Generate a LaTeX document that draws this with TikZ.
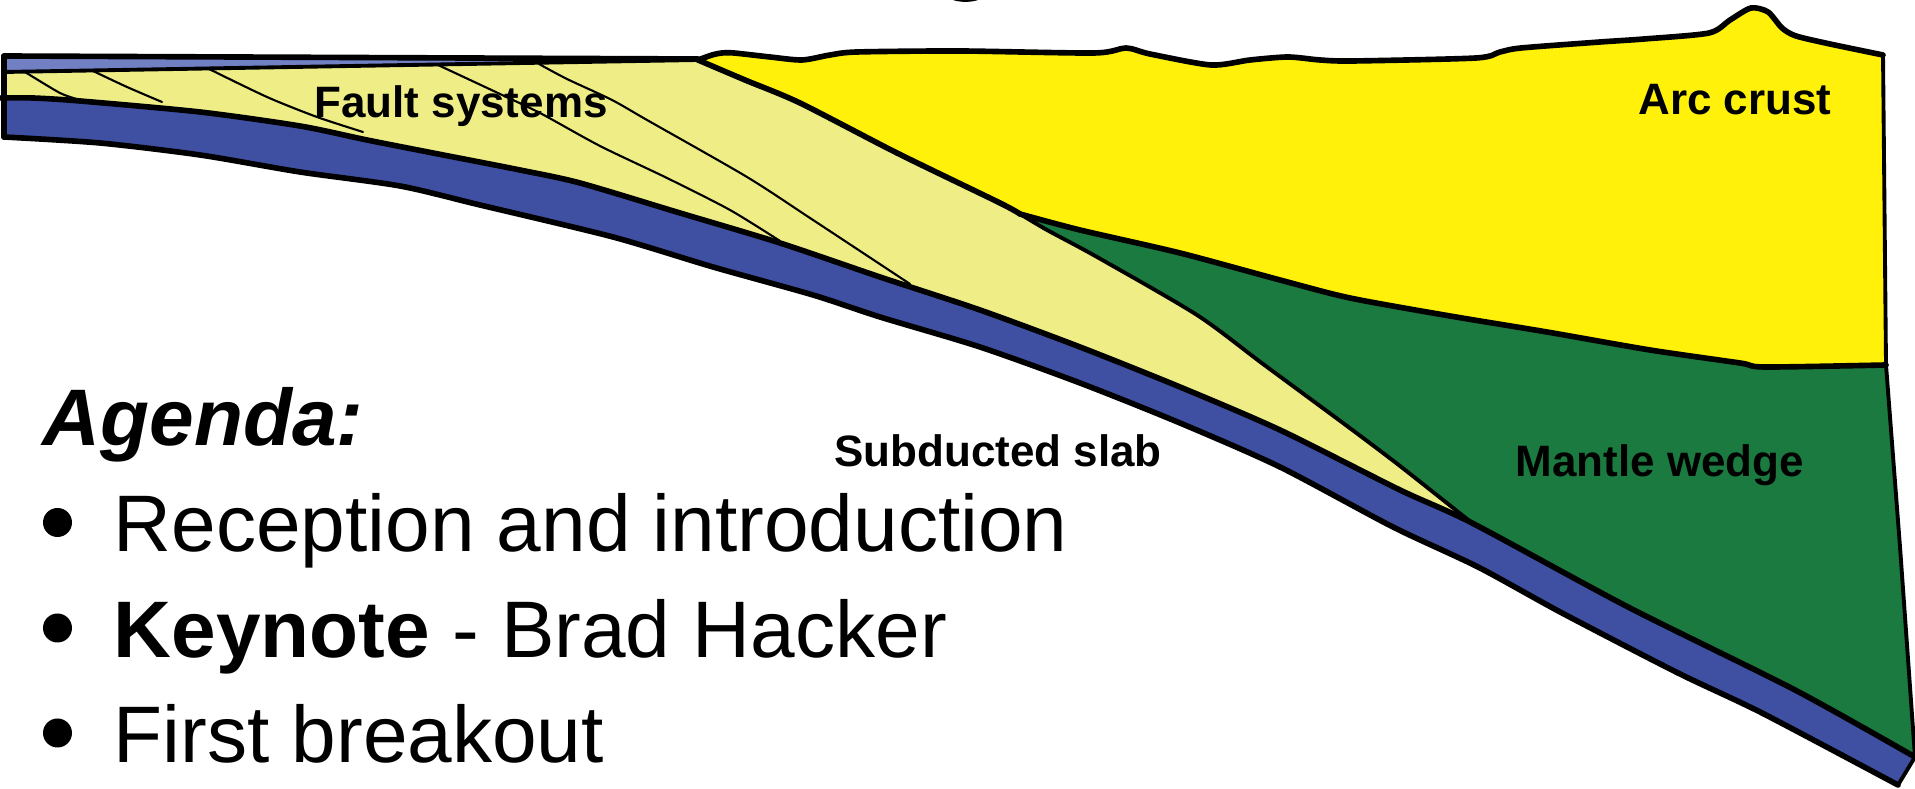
\documentclass[tikz,border=0pt]{standalone}
\usepackage{fontspec}
\setmainfont{Liberation Sans}
\begin{document}
\definecolor{stripblue}{RGB}{112,128,195}
\definecolor{slabblue}{RGB}{63,80,162}
\definecolor{wedgeyellow}{RGB}{239,238,134}
\definecolor{arcyellow}{RGB}{255,241,10}
\definecolor{mantlegreen}{RGB}{27,122,63}
\begin{tikzpicture}[x=0.01cm,y=-0.01cm,
  boundary/.style={line width=1.6pt,line join=round,line cap=round},
  seam/.style={line width=1.1pt,line join=round,line cap=round},
  fault/.style={line width=0.6pt,line cap=round},
  layerlabel/.style={inner sep=0pt,anchor=base,font=\fontsize{12.5}{15}\selectfont\bfseries},
  agendaline/.style={inner sep=0pt,anchor=base west,font=\fontsize{22.8}{27}\selectfont},
  sm/.style={smooth,tension=0.45}]
\useasboundingbox (0,0) rectangle (1915,789);

% ---------- fills ----------
% subducted slab
\fill[slabblue] plot[sm] coordinates {(1,98) (33,98) (80,101) (200,112) (300,126) (367,140) (433,153) (520,170) (580,183) (680,213) (780,243) (880,277) (980,310) (1080,347) (1180,387) (1280,430) (1400,490) (1472,523) (1628,607) (1795,690) (1915,757)}
  -- (1898,785)
  -- plot[sm] coordinates {(1898,785) (1762,713) (1678,673) (1562,613) (1478,567) (1393,527) (1280,467) (1180,423) (1080,383) (980,347) (880,317) (813,295) (713,267) (613,237) (480,205) (400,186) (300,172) (200,155) (100,143) (4,137)}
  -- cycle;

% accretionary wedge
\fill[wedgeyellow] (4,72) -- (698,60)
  -- plot[sm] coordinates {(698,60) (745,80) (800,103) (897,153) (1000,203) (1020,214)}
  -- plot[sm] coordinates {(1020,214) (1047,230) (1097,257) (1197,315) (1263,364) (1347,426) (1400,466) (1472,523)}
  -- plot[sm] coordinates {(1472,523) (1400,490) (1280,430) (1180,387) (1080,347) (980,310) (880,277) (780,243) (680,213) (580,183) (520,170) (433,153) (367,140) (300,126) (200,112) (80,101) (33,98) (4,98)}
  -- cycle;

% arc crust
\fill[arcyellow] plot[sm] coordinates {(698,60) (712,55) (722,53) (734,53) (770,57) (802,60) (830,55) (857,52) (960,51) (1094,53) (1126,48) (1150,54) (1211,65) (1250,60) (1288,57) (1320,60) (1353,61) (1476,58) (1500,52) (1521,48) (1600,42) (1644,39) (1709,33) (1730,20) (1751,8) (1768,12) (1782,28) (1796,36) (1830,44) (1883,55)}
  -- (1886,365)
  -- plot[sm] coordinates {(1886,365) (1765,367) (1740,363) (1650,350) (1547,332) (1450,316) (1350,298) (1280,280) (1180,253) (1080,230) (1020,214)}
  -- plot[sm] coordinates {(1020,214) (1000,203) (897,153) (800,103) (745,80) (698,60)}
  -- cycle;

% mantle wedge
\fill[mantlegreen] plot[sm] coordinates {(1020,214) (1080,230) (1180,253) (1280,280) (1350,298) (1450,316) (1547,332) (1650,350) (1740,363) (1765,367) (1886,365)}
  -- (1900,547) -- (1915,757)
  -- plot[sm] coordinates {(1915,757) (1795,690) (1628,607) (1472,523)}
  -- plot[sm] coordinates {(1472,523) (1400,466) (1347,426) (1263,364) (1197,315) (1097,257) (1047,230) (1020,214)}
  -- cycle;

% thin top layer
\fill[stripblue] (4,56) -- (698,59) -- (698,60) -- (4,72) -- cycle;

% ---------- outlines ----------
\draw[boundary] (4,56) -- (698,59);
\draw[seam] (4,72) -- (698,60);
\draw[boundary] (4,56) -- (4,137);
\draw[boundary] plot[sm] coordinates {(698,60) (712,55) (722,53) (734,53) (770,57) (802,60) (830,55) (857,52) (960,51) (1094,53) (1126,48) (1150,54) (1211,65) (1250,60) (1288,57) (1320,60) (1353,61) (1476,58) (1500,52) (1521,48) (1600,42) (1644,39) (1709,33) (1730,20) (1751,8) (1768,12) (1782,28) (1796,36) (1830,44) (1883,55)};
\draw[seam] (1883,55) -- (1886,365) -- (1900,547) -- (1915,757);
\draw[boundary] plot[sm] coordinates {(698,60) (745,80) (800,103) (897,153) (1000,203) (1020,214)};
\draw[seam] plot[sm] coordinates {(1020,214) (1047,230) (1097,257) (1197,315) (1263,364) (1347,426) (1400,466) (1472,523)};
\draw[boundary] plot[sm] coordinates {(1020,214) (1080,230) (1180,253) (1280,280) (1350,298) (1450,316) (1547,332) (1650,350) (1740,363) (1765,367) (1886,365)};
\draw[boundary] plot[sm] coordinates {(1,98) (33,98) (80,101) (200,112) (300,126) (367,140) (433,153) (520,170) (580,183) (680,213) (780,243) (880,277) (980,310) (1080,347) (1180,387) (1280,430) (1400,490) (1472,523) (1628,607) (1795,690) (1915,757)};
\draw[boundary] plot[sm] coordinates {(4,137) (100,143) (200,155) (300,172) (400,186) (480,205) (613,237) (713,267) (813,295) (880,317) (980,347) (1080,383) (1180,423) (1280,467) (1393,527) (1478,567) (1562,613) (1678,673) (1762,713) (1898,785)};
\draw[seam] (1915,757) -- (1898,785);

% fault systems in the wedge
\draw[fault] plot[sm] coordinates {(25,72) (60,93) (80,100)};
\draw[fault] plot[sm] coordinates {(93,71) (127,87) (162,102)};
\draw[fault] plot[sm] coordinates {(207,68) (267,97) (317,117) (363,132)};
\draw[fault] plot[sm] coordinates {(438,65) (500,94) (540,113) (600,146) (667,178) (730,210) (780,241)};
\draw[fault] plot[sm] coordinates {(539,64) (567,79) (612,100) (647,120) (747,177) (813,220) (910,284)};

% descender of the heading above
\fill (953,0) .. controls (960,2.5) and (971,2.5) .. (978,0) -- cycle;

% ---------- labels ----------
\node[layerlabel] (faults) at (461,118) {Fault systems};
\node[layerlabel] (arc) at (1735,115) {Arc crust};
\node[layerlabel] (slab) at (998,467) {Subducted slab};
\node[layerlabel] (mantle) at (1660,477) {Mantle wedge};

% ---------- agenda ----------
\node[agendaline] (agenda) at (42,446) {\textbf{\textit{Agenda:}}};
\fill (57.5,522.5) circle[radius=14.5];
\fill (57.5,628) circle[radius=14.5];
\fill (57.5,733) circle[radius=14.5];
\node[agendaline] (item1) at (113,552) {Reception and introduction};
\node[agendaline] (item2) at (113,658) {\textbf{Keynote} - Brad Hacker};
\node[agendaline] (item3) at (113,763) {First breakout};
\end{tikzpicture}
\end{document}
